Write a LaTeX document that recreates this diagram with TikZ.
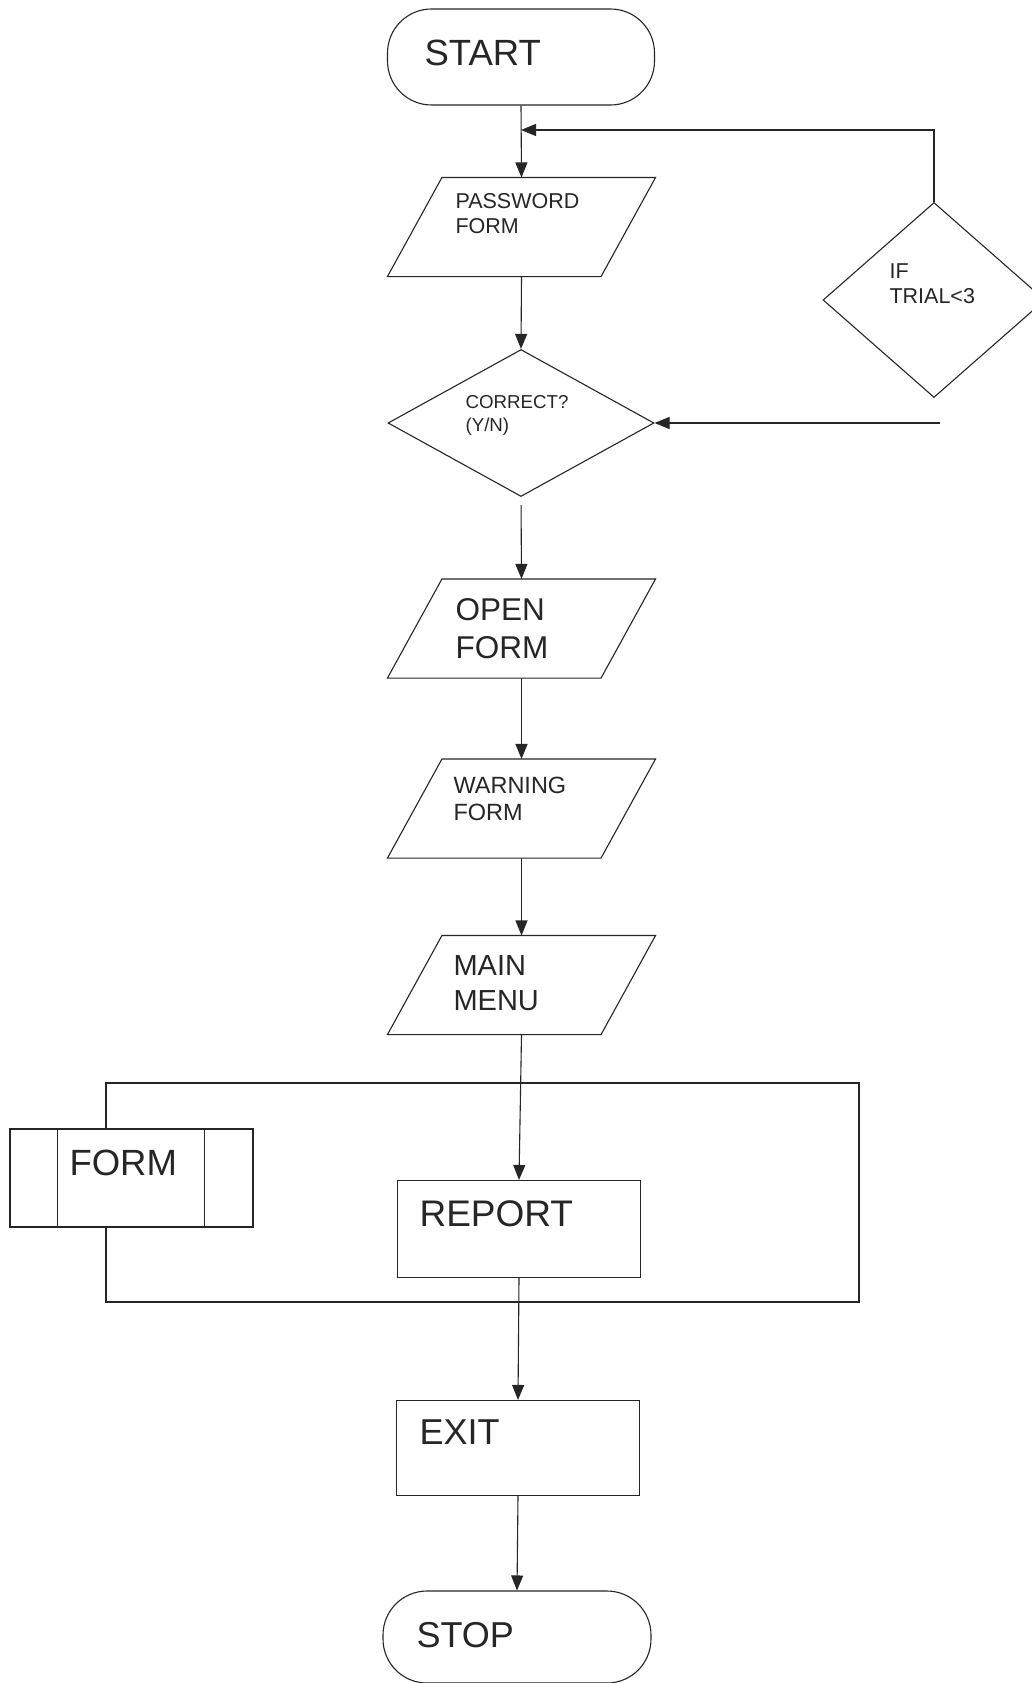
\documentclass[tikz,border=0pt]{standalone}
\usepackage{fontspec}
\setmainfont{Liberation Sans}
\usetikzlibrary{shapes.geometric, arrows.meta}

\colorlet{ink}{black!85}
\newcommand{\fsz}[2]{\fontsize{#1}{#2}\selectfont}
% slanted outline of an input/output box
\newcommand{\ioframe}[1]{\draw ([xshift=54.5pt]#1.north west) -- (#1.north east)
    -- ([xshift=-54.5pt]#1.south east) -- (#1.south west) -- cycle;}

\begin{document}
\begin{tikzpicture}[
            x=1pt, y=-1pt, color=ink, line width=1.1pt,
            terminal/.style={draw, rectangle, rounded corners=44pt, minimum width=267pt, minimum height=96pt, inner sep=0pt},
            inout/.style={rectangle, minimum width=267pt, minimum height=98pt, inner sep=0pt},
            decision/.style={draw, diamond, inner sep=1pt},
            process/.style={draw, rectangle, minimum width=243pt, minimum height=97pt, inner sep=0pt},
            panel/.style={draw, rectangle, inner sep=0pt},
            txt/.style={inner sep=0pt, anchor=west, align=left},
            >={Triangle[length=15pt, width=12pt]}]

        \path[use as bounding box, fill=white] (0,0) rectangle (1032,1683);

        % main column
        \node[terminal] (start) at (521,57) {};
        \node[txt, font=\fsz{36.5}{44}] (startlbl) at (424,53) {START};

        \node[inout] (pwd) at (521.5,227) {}; \ioframe{pwd}
        \node[txt, font=\fsz{21.5}{25}] (pwdlbl) at (455,213.5) {PASSWORD\\FORM};

        \node[decision, minimum width=266pt, minimum height=147pt] (correct) at (521,423) {};
        \node[txt, font=\fsz{18.7}{23}] (correctlbl) at (465,415) {CORRECT?\\(Y/N)};

        \node[decision, minimum width=222pt, minimum height=195pt] (trial) at (934,300) {};
        \node[txt, font=\fsz{21.5}{25}] (triallbl) at (889,284) {IF\\TRIAL<3};

        \node[inout] (open) at (521.5,628.5) {}; \ioframe{open}
        \node[txt, font=\fsz{31.5}{38}] (openlbl) at (455,629) {OPEN\\FORM};

        \node[inout] (warn) at (521.5,808.5) {}; \ioframe{warn}
        \node[txt, font=\fsz{23.5}{27}] (warnlbl) at (453,798.5) {WARNING\\FORM};

        \node[inout] (menu) at (521.5,985) {}; \ioframe{menu}
        \node[txt, font=\fsz{29}{35}] (menulbl) at (453,983) {MAIN\\MENU};

        % menu frame with form and report
        \node[panel, minimum width=753pt, minimum height=219pt] (menubox) at (482.5,1192.5) {};

        \node[process, fill=white, minimum height=98pt] (form) at (131.5,1178) {};
        \draw ([xshift=48pt]form.north west) -- ([xshift=48pt]form.south west);
        \draw ([xshift=-49pt]form.north east) -- ([xshift=-49pt]form.south east);
        \node[txt, font=\fsz{36.5}{44}] (formlbl) at (69,1162.5) {FORM};

        \node[process] (report) at (519,1229) {};
        \node[txt, font=\fsz{37}{44}] (reportlbl) at (419,1214) {REPORT};

        \node[process, minimum height=95pt] (exit) at (518,1448) {};
        \node[txt, font=\fsz{36}{44}] (exitlbl) at (419,1432) {EXIT};

        \node[terminal, minimum width=268pt, minimum height=92pt] (stop) at (517,1637) {};
        \node[txt, font=\fsz{36}{44}] (stoplbl) at (416,1635) {STOP};

        % connectors
        \coordinate (join) at (start.south |- 0,130);
        \coordinate (retry) at (940,423);

        \draw[->] (start.south) -- (pwd.north);
        \draw[->] (trial.north) |- (join);
        \draw[->] (pwd.south) -- (correct.north);
        \draw[->] (retry) -- (correct.east);
        \draw[->, shorten <=8pt] (correct.south) -- (open.north);
        \draw[->] (open.south) -- (warn.north);
        \draw[->] (warn.south) -- (menu.north);
        \draw[->] (menu.south) -- (report.north);
        \draw[->] (report.south) -- (exit.north);
        \draw[->] (exit.south) -- (stop.north);
    \end{tikzpicture}
\end{document}
